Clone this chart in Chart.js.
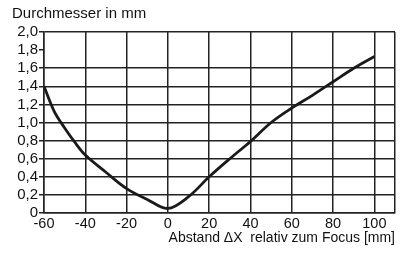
<!DOCTYPE html>
<html lang="de">
<head>
    <meta charset="UTF-8">
    <title>Durchmesser in mm</title>
    <script src="https://cdn.jsdelivr.net/npm/chart.js"></script>
    <style>
        html, body { margin: 0; padding: 0; background: #fff; }
        #chart { display: block; }
    </style>
</head>
<body>
    <canvas id="chart" width="400" height="256"></canvas>

    <script>
        // Werte
        const abstand = [-60, -55, -50, -45, -40, -30, -20, -10, 0, 10, 20, 30, 40, 50, 60, 70, 80, 90, 100];
        const durchmesser = [1.40, 1.12, 0.94, 0.78, 0.64, 0.45, 0.27, 0.15, 0.05, 0.18, 0.40, 0.60, 0.79, 1.00, 1.16, 1.30, 1.45, 1.60, 1.73];

        const xTicks = [-60, -40, -20, 0, 20, 40, 60, 80, 100, 110];
        const yTicks = [0, 0.2, 0.4, 0.6, 0.8, 1.0, 1.2, 1.4, 1.6, 1.8, 2.0];

        const gridFarbe = '#222';
        const schrift = 'Liberation Sans, Arial, Helvetica, sans-serif';

        const punkte = abstand.map((x, i) => ({ x: x, y: durchmesser[i] }));

        new Chart(document.getElementById('chart'), {
            type: 'line',
            data: {
                datasets: [{
                    data: punkte,
                    borderColor: '#1a1a1a',
                    borderWidth: 2.8,
                    pointRadius: 0,
                    fill: false,
                    tension: 0.35
                }]
            },
            options: {
                responsive: false,
                animation: false,
                layout: { padding: { left: 12, right: 5, top: 0, bottom: 0 } },
                plugins: {
                    legend: { display: false },
                    tooltip: { enabled: false },
                    title: {
                        display: true,
                        text: 'Durchmesser in mm',
                        align: 'start',
                        color: '#111',
                        font: { family: schrift, size: 15, weight: 'normal' },
                        padding: { top: 5, bottom: 9 }
                    }
                },
                scales: {
                    x: {
                        type: 'linear',
                        min: -60,
                        max: 110,
                        afterBuildTicks: (scale) => { scale.ticks = xTicks.map(v => ({ value: v })); },
                        afterFit: (scale) => { scale.height = 43; },
                        border: { display: true, color: gridFarbe, width: 1.5 },
                        grid: { color: gridFarbe, lineWidth: 1.5, drawTicks: false },
                        ticks: {
                            color: '#111',
                            padding: 2,
                            maxRotation: 0,
                            autoSkip: false,
                            font: { family: schrift, size: 14.5 },
                            callback: (v) => (v === 110 ? '' : String(v))
                        },
                        title: {
                            display: true,
                            text: 'Abstand \u0394X  relativ zum Focus [mm]',
                            align: 'end',
                            color: '#111',
                            font: { family: schrift, size: 14 },
                            padding: { top: 0, bottom: 9 }
                        }
                    },
                    y: {
                        min: 0,
                        max: 2,
                        afterBuildTicks: (scale) => { scale.ticks = yTicks.map(v => ({ value: v })); },
                        afterFit: (scale) => { scale.width = 32; },
                        border: { display: true, color: gridFarbe, width: 1.5 },
                        grid: {
                            // bei 1,8 nur Strich, keine Gitterlinie
                            color: (ctx) => (ctx.tick && Math.abs(ctx.tick.value - 1.8) < 0.001 ? 'rgba(0,0,0,0)' : gridFarbe),
                            tickColor: gridFarbe,
                            lineWidth: 1.5,
                            tickLength: 5
                        },
                        ticks: {
                            color: '#111',
                            padding: 1,
                            autoSkip: false,
                            font: { family: schrift, size: 15 },
                            callback: (v) => (v === 0 ? '0' : v.toFixed(1).replace('.', ','))
                        }
                    }
                }
            }
        });
    </script>
</body>
</html>
